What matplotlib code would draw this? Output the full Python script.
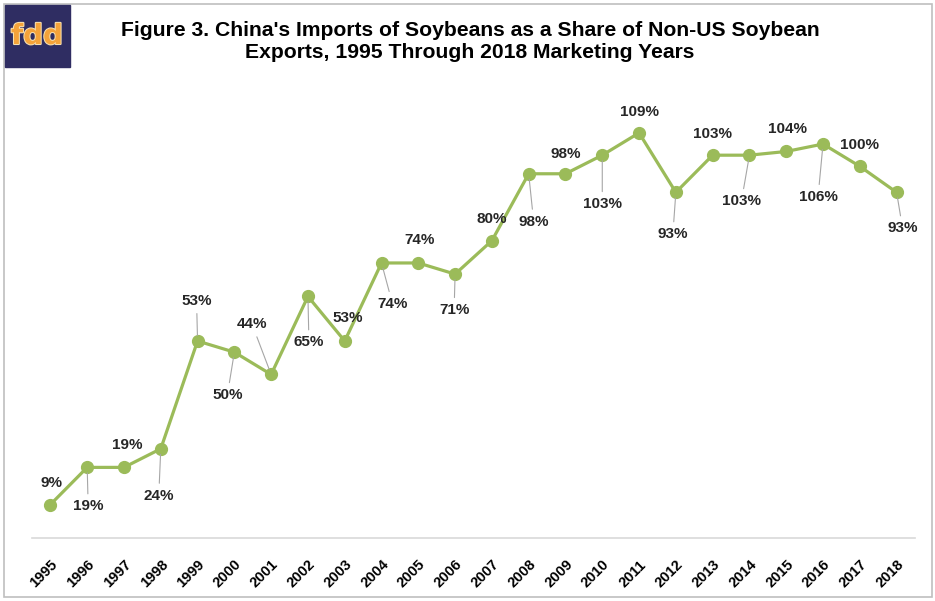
import numpy as np
import matplotlib.pyplot as plt
from matplotlib.patches import Rectangle
import matplotlib.patheffects as pe

years = [str(y) for y in range(1995, 2019)]
share = [9, 19, 19, 24, 53, 50, 44, 65, 53, 74, 74, 71,
         80, 98, 98, 103, 109, 93, 103, 103, 104, 106, 100, 93]

# label offsets in pixels from each point, and which ones get a leader line
label_dx = [1, 1, 3, -2, -1, -7, -19, 1, 3, 11, 1, -1,
            0, 5, 0, 0, 0, -3, 0, -8, 1, -5, 0, 6]
label_dy = [22, -39, 22, -47, 40, -43, 50, -46, 23, -41, 23, -36,
            22, -48, 20, -49, 21, -42, 21, -46, 22, -53, 21, -36]
leader = [False, True, False, True, True, True, True, True, False, True, False, True,
          False, True, False, True, False, True, False, True, False, True, False, True]

green = '#9BBB59'

fig = plt.figure(figsize=(9.35, 6.01), dpi=100)
ax = fig.add_axes([32 / 935, 1 - 538 / 601, (915 - 32) / 935, (538 - 92) / 601])

x = np.arange(len(years))
ax.plot(x, share, color=green, lw=2.3, marker='o', ms=8.5, zorder=3)

for i, v in enumerate(share):
    props = None
    if leader[i]:
        props = dict(arrowstyle='-', color='#a6a6a6', lw=0.8, shrinkA=2, shrinkB=4)
    ax.annotate(f'{v}%', (x[i], v), xytext=(label_dx[i], label_dy[i]),
                textcoords='offset pixels', ha='center', va='center',
                fontsize=11, fontweight='bold', color='#262626',
                family='Liberation Sans', arrowprops=props, zorder=4)

ax.set_xlim(-0.5, len(years) - 0.5)
ax.set_ylim(0, 120)
ax.set_xticks(x)
ax.set_xticklabels(years, rotation=45, ha='right', rotation_mode='anchor',
                   fontsize=10.5, fontweight='bold', family='Liberation Sans')
ax.tick_params(axis='x', length=0, pad=14)
ax.set_yticks([])
for side in ['left', 'right', 'top']:
    ax.spines[side].set_visible(False)
ax.spines['bottom'].set_color('#d9d9d9')
ax.spines['bottom'].set_linewidth(1.2)

# outer frame
fig.patches.append(Rectangle((4 / 935, 4 / 601), 928 / 935, 593 / 601,
                             transform=fig.transFigure, fill=False,
                             edgecolor='#bfbfbf', lw=1.2))

# logo block
fig.patches.append(Rectangle((5 / 935, 1 - 67 / 601), 65 / 935, 62 / 601,
                             transform=fig.transFigure, color='#2f2d62'))
fig.text(37 / 935, 1 - 36 / 601, 'fdd', ha='center', va='center',
         fontsize=20, fontweight='bold', color='#f5a33a', family='DejaVu Sans',
         path_effects=[pe.withStroke(linewidth=1.5, foreground='#f7e0b0')])

fig.text(470 / 935, 1 - 41 / 601,
         "Figure 3. China's Imports of Soybeans as a Share of Non-US Soybean\n"
         "Exports, 1995 Through 2018 Marketing Years",
         ha='center', va='center', fontsize=15.2, fontweight='bold',
         family='Liberation Sans', linespacing=1.2)

fig.savefig('out.png', dpi=100)
